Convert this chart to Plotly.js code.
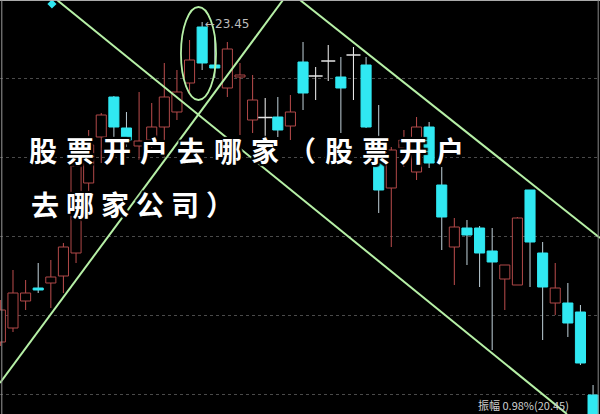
<!DOCTYPE html>
<html><head><meta charset="utf-8">
<script src="https://cdn.plot.ly/plotly-3.0.1.min.js"></script>
<style>html,body{margin:0;padding:0;background:#000;}#chart{width:600px;height:414px;}</style>
</head><body><div id="chart"></div>
<script>
// candle data
const openP  = [17.05,17.33,17.87,18.13,18.23,18.37,18.83,20.23,21.15,21.95,21.33,20.97,21.09,21.35,21.65,22.23,23.35,22.59,22.13,22.35,21.49,21.54,21.55,21.37,22.65,22.37,22.67,22.35,22.79,22.59,20.79,20.13,20.93,20.45,21.35,20.19,18.95,19.33,19.33,18.87,18.31,18.19,20.09,18.83,17.83,17.83,17.65,15.99];
const highP  = [17.89,18.49,18.29,18.63,18.69,19.03,21.03,21.29,21.63,21.97,21.65,22.05,21.83,22.63,22.49,23.09,23.45,23.15,23.05,22.63,22.39,21.93,21.95,21.99,23.05,22.55,22.99,22.75,22.95,22.75,21.79,20.95,21.29,21.55,21.45,20.55,19.53,19.49,19.37,19.33,18.59,19.55,20.09,19.05,18.63,18.23,17.79,16.19];
const lowP   = [16.97,17.25,17.69,18.03,17.73,18.03,18.63,19.89,20.63,21.09,20.95,20.69,20.89,20.75,21.49,22.03,22.49,22.33,21.95,21.19,21.23,21.09,21.15,21.09,21.69,21.89,22.27,21.23,21.89,21.33,19.63,18.95,20.55,20.29,20.53,18.89,18.19,18.59,18.15,16.89,17.69,18.19,18.15,17.09,17.59,17.15,16.59,15.45];
const closeP = [17.69,18.03,18.03,18.09,18.35,18.95,20.57,20.99,21.59,21.35,21.09,21.07,21.35,21.95,22.05,22.69,22.63,22.53,22.91,22.39,21.89,21.54,21.29,21.65,22.03,22.37,22.67,22.13,22.79,21.35,20.09,20.89,21.09,21.35,20.63,19.55,19.35,19.19,18.83,18.65,18.59,19.53,19.05,18.15,18.13,17.43,16.63,15.49];
const peakLabel = "←23.45";
const peakIndex = 16;
const peakValue = 23.45;
// drawn trend lines (index, price endpoints)
const lineA_x = [4.49, 44.93];  const lineA_y = [23.89, 15.61];
const lineB_x = [-0.03, 22.41]; const lineB_y = [16.23, 23.89];
const lineC_x = [23.76, 47.55]; const lineC_y = [23.89, 19.13];
const markerPt_x = [4.09]; const markerPt_y = [23.81];
const titleLine1 = "股票开户去哪家（股票开户";
const titleLine2 = "去哪家公司）";
const bottomText = "振幅 0.98%(20.45)";

const RED = '#b04848', CYAN = '#30e8f2', CYANWICK = '#b4c4cc', WHITE = '#e6e6e6', GREEN = '#b6f0a6';

const idx = openP.map((_, i) => i);
const up = idx.filter(i => closeP[i] > openP[i]);
const dn = idx.filter(i => closeP[i] < openP[i]);
const fl = idx.filter(i => closeP[i] === openP[i]);

function wick(ids, color) {
  return {type:'bar', x: ids, base: ids.map(i => lowP[i]), y: ids.map(i => highP[i] - lowP[i]),
    width: 0.085, marker:{color: color, line:{width:0}}, hoverinfo:'skip', showlegend:false};
}
const traces = [
  wick(up, RED), wick(dn, CYANWICK), wick(fl, WHITE),
  {type:'bar', x: up, base: up.map(i => openP[i]), y: up.map(i => closeP[i] - openP[i]), width: 0.8,
    marker:{color:'#000', line:{color: RED, width: 1}}, showlegend:false},
  {type:'bar', x: dn, base: dn.map(i => closeP[i]), y: dn.map(i => openP[i] - closeP[i]), width: 0.8,
    marker:{color: CYAN, line:{color: CYAN, width: 1}}, showlegend:false},
  {type:'scatter', mode:'markers', x: fl, y: fl.map(i => closeP[i]),
    marker:{symbol:'line-ew', size: 10, line:{color: WHITE, width: 1.5}}, showlegend:false},
  {type:'scatter', mode:'lines', x: lineA_x, y: lineA_y, line:{color: GREEN, width: 2}, showlegend:false},
  {type:'scatter', mode:'lines', x: lineB_x, y: lineB_y, line:{color: GREEN, width: 2}, showlegend:false},
  {type:'scatter', mode:'lines', x: lineC_x, y: lineC_y, line:{color: GREEN, width: 2}, showlegend:false},
  {type:'scatter', mode:'markers', x: markerPt_x, y: markerPt_y, marker:{symbol:'diamond', size: 7, color: CYAN}, showlegend:false}
];

const shadow = '2px 2px 1px #000, -2px -2px 1px #000, 2px -2px 1px #000, -2px 2px 1px #000';
const layout = {
  width: 600, height: 414, margin:{l:0, r:0, t:0, b:0},
  paper_bgcolor:'#000', plot_bgcolor:'#000', barmode:'overlay', showlegend:false,
  xaxis:{range:[-0.03, 47.55], visible:false, fixedrange:true},
  yaxis:{range:[15.61, 23.89], showticklabels:false, zeroline:false, showline:false, ticks:'',
    tick0: 16.01, dtick: 1.58, showgrid:true, gridcolor:'#4a4a4a', griddash:'dot', gridwidth:1},
  shapes:[
    {type:'circle', xref:'x', yref:'y', x0:14.32, x1:17.10, y0:21.89, y1:23.75, line:{color: GREEN, width: 1.8}},
    {type:'line', xref:'paper', yref:'paper', x0:0, x1:1, y0:0.999, y1:0.999, line:{color:'#bbbbbb', width:1}},
    {type:'line', xref:'paper', yref:'paper', x0:0.003, x1:0.003, y0:0, y1:1, line:{color:'#999999', width:1}},
    {type:'line', xref:'paper', yref:'paper', x0:0.997, x1:0.997, y0:0, y1:1, line:{color:'#888888', width:1}}
  ],
  annotations:[
    {x: peakIndex, y: peakValue, xref:'x', yref:'y', text: peakLabel, showarrow:false, xanchor:'left', yanchor:'middle',
      xshift: 1, yshift: -2, font:{family:'DejaVu Sans, sans-serif', size: 12, color:'#bdbdbd'}},
    {x: 27/600, y: 1 - 150/414, xref:'paper', yref:'paper', text: titleLine1, showarrow:false, xanchor:'left', yanchor:'middle', align:'left',
      font:{family:'Noto Sans CJK SC', size: 28, weight: 'bold', color:'#ffffff', shadow: shadow}},
    {x: 29/600, y: 1 - 204/414, xref:'paper', yref:'paper', text: titleLine2, showarrow:false, xanchor:'left', yanchor:'middle', align:'left',
      font:{family:'Noto Sans CJK SC', size: 28, weight: 'bold', color:'#ffffff', shadow: shadow}},
    {x: 476/600, y: 1 - 405/414, xref:'paper', yref:'paper', text: bottomText, showarrow:false, xanchor:'left', yanchor:'middle',
      font:{family:'Noto Sans CJK SC', size: 11, color:'#cfcfcf'}}
  ]
};
Plotly.newPlot('chart', traces, layout, {staticPlot:true}).then(() => {
  const texts = document.querySelectorAll('.annotation-text');
  texts.forEach(t => {
    if (t.textContent === titleLine1) t.style.letterSpacing = '9px';
    if (t.textContent === titleLine2) t.style.letterSpacing = '7px';
  });
});
</script></body></html>
